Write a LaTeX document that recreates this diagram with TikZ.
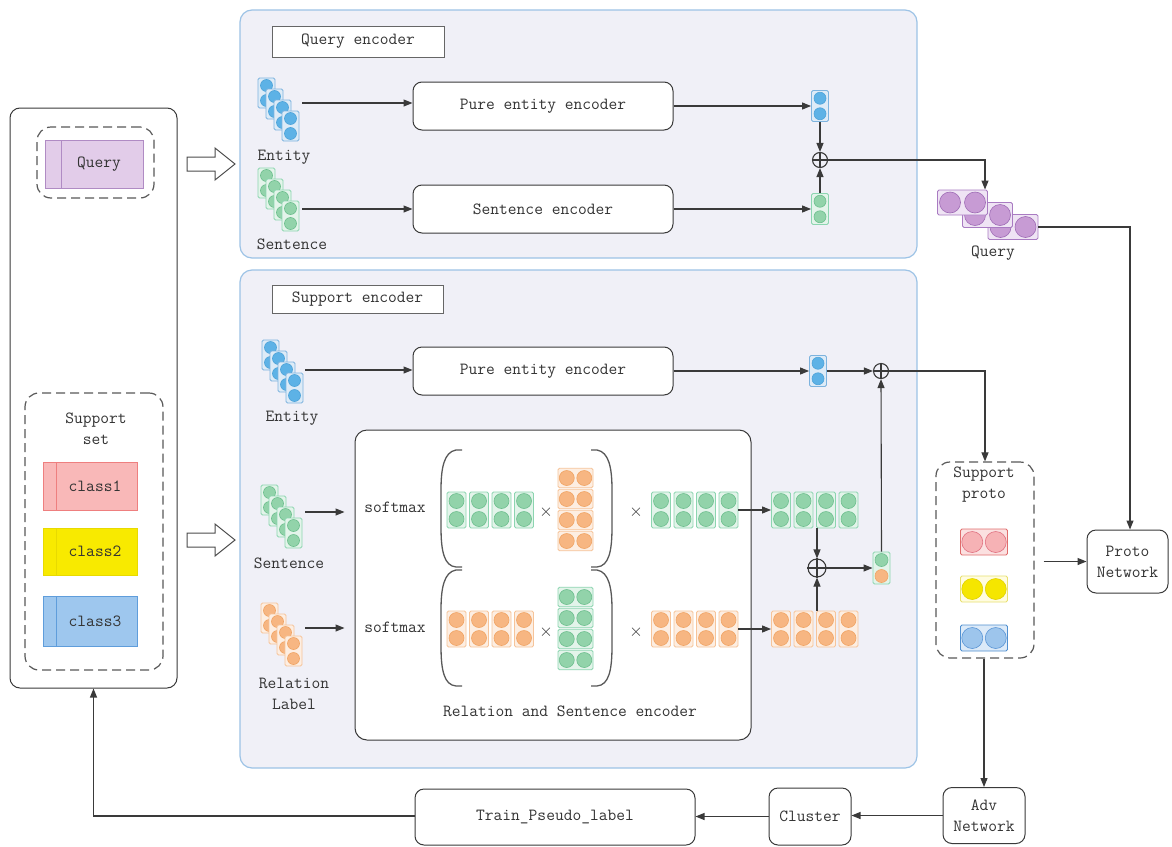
\documentclass[tikz,border=0pt]{standalone}
\usetikzlibrary{arrows.meta}
\definecolor{panelF}{HTML}{F0F0F7}
\definecolor{panelB}{HTML}{9DC3E6}
\definecolor{ink}{HTML}{3A3A3A}
\definecolor{txt}{HTML}{333333}
\definecolor{cBluB}{HTML}{7DB3DE}\definecolor{cBluF}{HTML}{DDEBF7}\definecolor{cBluS}{HTML}{4EA3D9}\definecolor{cBluC}{HTML}{5DB2E6}
\definecolor{cGrnB}{HTML}{8CD5B0}\definecolor{cGrnF}{HTML}{E3F4EA}\definecolor{cGrnS}{HTML}{6DBE8E}\definecolor{cGrnC}{HTML}{92D3AA}
\definecolor{cOrgB}{HTML}{F6C49A}\definecolor{cOrgF}{HTML}{FDEEE2}\definecolor{cOrgS}{HTML}{F0A464}\definecolor{cOrgC}{HTML}{F7B682}
\definecolor{cPurB}{HTML}{A97BC2}\definecolor{cPurF}{HTML}{EFE4F4}\definecolor{cPurS}{HTML}{9E6BB5}\definecolor{cPurC}{HTML}{C79BD4}
\definecolor{cPnkB}{HTML}{E06C6C}\definecolor{cPnkF}{HTML}{FBE0E0}\definecolor{cPnkS}{HTML}{E07080}\definecolor{cPnkC}{HTML}{F6B2B5}
\definecolor{cYelB}{HTML}{E8E070}\definecolor{cYelF}{HTML}{FFFCE0}\definecolor{cYelS}{HTML}{E0D000}\definecolor{cYelC}{HTML}{F5E600}
\definecolor{cPblB}{HTML}{4F8FD0}\definecolor{cPblF}{HTML}{DCEAF8}\definecolor{cPblS}{HTML}{5A95D5}\definecolor{cPblC}{HTML}{9DC5EC}
\definecolor{qFill}{HTML}{E2CCE9}\definecolor{qLine}{HTML}{B08BC4}
\definecolor{c1Fill}{HTML}{F9B8B8}\definecolor{c1Line}{HTML}{EE7F7F}
\definecolor{c2Fill}{HTML}{F8EA00}\definecolor{c2Line}{HTML}{E8DA00}
\definecolor{c3Fill}{HTML}{9EC7EE}\definecolor{c3Line}{HTML}{5F9DDB}
\tikzset{
 lbl/.style={font=\ttfamily\fontsize{17}{21}\selectfont, text=txt, inner sep=0pt, align=center},
 enc/.style={draw=ink, line width=1pt, rounded corners=9pt, fill=white, lbl},
 arr/.style={draw=ink, line width=1.1pt, -{Triangle[length=9pt,width=7pt]}},
 ln/.style={draw=ink, line width=1.1pt},
 panel/.style={draw=panelB, fill=panelF, line width=1.2pt, rounded corners=12pt},
 dashbox/.style={draw=black!65, dash pattern=on 9pt off 5pt, line width=1.2pt, rounded corners=14pt},
 card/.style={line width=0.9pt, rounded corners=1.5pt, inner sep=0pt},
 opl/.style={circle, draw=ink, line width=1.1pt, inner sep=0pt, minimum size=#1},
 paren/.style={draw=black!65, line width=1.3pt},
 hollow/.style={draw=black!70, fill=white, line width=1pt},
 tagbox/.style={draw=black!60, fill=white, line width=1pt, lbl},
 colbox/.style={line width=1pt, lbl},
}
\newcommand\vcard[7]{%
 \node[card, draw=#7B, fill=#7F, minimum width=#4pt, minimum height=#5pt] (#1) at (#2,#3) {};
 \filldraw[draw=#7S, fill=#7C, line width=0.6pt] ({#2},{#3-#5/4}) circle[radius=#6pt] ({#2},{#3+#5/4}) circle[radius=#6pt];
}
\newcommand\hcard[7]{%
 \node[card, draw=#7B, fill=#7F, minimum width=#4pt, minimum height=#5pt] (#1) at (#2,#3) {};
 \filldraw[draw=#7S, fill=#7C, line width=0.6pt] ({#2-#4/4},{#3}) circle[radius=#6pt] ({#2+#4/4},{#3}) circle[radius=#6pt];
}
\newcommand\stackv[4]{%
 \vcard{#1a}{#2}{#3}{17}{30}{6}{#4}
 \vcard{#1b}{#2+8}{#3+11}{17}{30}{6}{#4}
 \vcard{#1c}{#2+16}{#3+22}{17}{30}{6}{#4}
 \vcard{#1d}{#2+24}{#3+33}{17}{30}{6}{#4}
}
\newcommand\rowv[4]{%
 \vcard{#1a}{#2}{#3}{19}{36}{7.5}{#4}
 \vcard{#1b}{#2+22.5}{#3}{19}{36}{7.5}{#4}
 \vcard{#1c}{#2+45}{#3}{19}{36}{7.5}{#4}
 \vcard{#1d}{#2+67.5}{#3}{19}{36}{7.5}{#4}
}
\newcommand\colh[4]{%
 \hcard{#1a}{#2}{#3}{35}{19.5}{7.5}{#4}
 \hcard{#1b}{#2}{#3+21}{35}{19.5}{7.5}{#4}
 \hcard{#1c}{#2}{#3+42}{35}{19.5}{7.5}{#4}
 \hcard{#1d}{#2}{#3+63}{35}{19.5}{7.5}{#4}
}
\newcommand\opcross[1]{\draw[ink, line width=1.1pt] (#1.north) -- (#1.south) (#1.west) -- (#1.east);}
\begin{document}
\begin{tikzpicture}[x=1pt,y=-1pt]
\useasboundingbox (0,0) rectangle (1172,846);
\fill[white] (0,0) rectangle (1172,846);

% ---------- left column ----------
\node[draw=ink, line width=1pt, rounded corners=10pt, minimum width=167pt, minimum height=580pt] (lb) at (93.5,398) {};
\node[dashbox, minimum width=117pt, minimum height=71pt] (qgrp) at (95.5,162.5) {};
\node[colbox, draw=qLine, fill=qFill, minimum width=98pt, minimum height=48pt] (qbox) at (94,164) {};
\draw[qLine, line width=1pt] (61,140) -- (61,188);
\node[lbl] (qtxt) at (99,164) {Query};

\node[dashbox, minimum width=138pt, minimum height=277pt] (sgrp) at (94,531.5) {};
\node[lbl] (stxt) at (96,428.5) {Support\\set};
\node[colbox, draw=c1Line, fill=c1Fill, minimum width=94pt, minimum height=48pt] (c1) at (90,486) {};
\draw[c1Line, line width=1pt] (56,462) -- (56,510);
\node[lbl] (c1t) at (95,486) {class1};
\node[colbox, draw=c2Line, fill=c2Fill, minimum width=94pt, minimum height=47pt] (c2) at (90,551.5) {};
\draw[c2Line, line width=1pt] (56,528) -- (56,575);
\node[lbl] (c2t) at (95,551.5) {class2};
\node[colbox, draw=c3Line, fill=c3Fill, minimum width=94pt, minimum height=50pt] (c3) at (90,621) {};
\draw[c3Line, line width=1pt] (56,596) -- (56,646);
\node[lbl] (c3t) at (95,621) {class3};

% hollow arrows
\draw[hollow] (187,157) -- (215,157) -- (215,148) -- (235,164) -- (215,180) -- (215,171) -- (187,171) -- cycle;
\draw[hollow] (187,533) -- (215,533) -- (215,524) -- (235,540) -- (215,556) -- (215,547) -- (187,547) -- cycle;

% ---------- query encoder panel ----------
\node[panel, minimum width=677pt, minimum height=248pt] (qpanel) at (578.5,134) {};
\node[tagbox, minimum width=172pt, minimum height=31pt] (qtag) at (358,41.5) {Query encoder};

\stackv{qe}{266.5}{93}{cBlu}
\node[lbl] (qet) at (284,157) {Entity};
\stackv{qs}{266.5}{183}{cGrn}
\node[lbl] (qst) at (292,244) {Sentence};

\node[enc, minimum width=260pt, minimum height=48pt] (qpe) at (543,106) {Pure entity encoder};
\node[enc, minimum width=260pt, minimum height=48pt] (qse) at (543,209) {Sentence encoder};

\vcard{qeo}{820}{106}{17}{31}{6}{cBlu}
\vcard{qso}{820}{209}{17}{31}{6}{cGrn}
\node[opl=15pt] (qop) at (820,160) {};
\opcross{qop}

\coordinate (qea) at (302,103);
\coordinate (qsa) at (302,209);
\draw[arr] (qea) -- (qea -| qpe.west);
\draw[arr] (qsa) -- (qsa -| qse.west);
\draw[arr] (qpe.east) -- (qeo.west);
\draw[arr] (qse.east) -- (qso.west);
\draw[arr] (qeo.south) -- (qop.north);
\draw[arr] (qso.north) -- (qop.south);

% purple query stack
\hcard{pq3}{1013}{227}{50}{25}{10.5}{cPur}
\hcard{pq2}{987.5}{215}{50}{25}{10.5}{cPur}
\hcard{pq1}{962.5}{202.5}{50}{25}{10.5}{cPur}
\node[lbl] (pqt) at (993,253) {Query};
\coordinate (qturn) at (985,160);
\draw[arr] (qop.east) -- (qturn) -- (qturn |- pq1.north);

% ---------- support encoder panel ----------
\node[panel, minimum width=677pt, minimum height=498pt] (spanel) at (578.5,519) {};
\node[tagbox, minimum width=171pt, minimum height=28pt] (stag) at (357.5,299) {Support encoder};

\stackv{se}{270.5}{355}{cBlu}
\node[lbl] (set) at (292,418) {Entity};
\stackv{ss}{269.5}{500}{cGrn}
\node[lbl] (sst) at (289,563) {Sentence};
\stackv{sr}{269.5}{618}{cOrg}
\node[lbl] (srt) at (294,694) {Relation\\Label};

\node[enc, minimum width=260pt, minimum height=48pt] (spe) at (543,371) {Pure entity encoder};
\vcard{seo}{818}{371}{17}{31}{6}{cBlu}
\node[opl=15pt] (sop) at (881,371) {};
\opcross{sop}
\coordinate (sea) at (305,370);
\draw[arr] (sea) -- (sea -| spe.west);
\draw[arr] (spe.east) -- (seo.west);
\draw[arr] (seo.east) -- (sop.west);

% relation and sentence encoder
\node[draw=ink, line width=1pt, rounded corners=12pt, fill=white, minimum width=396pt, minimum height=310pt] (rse) at (553,585) {};
\node[lbl] (rset) at (570,711) {Relation and Sentence encoder};
\coordinate (ssa) at (305,512);
\coordinate (sra) at (305,628);
\draw[arr, shorten >=10pt] (ssa) -- (ssa -| rse.west);
\draw[arr, shorten >=10pt] (sra) -- (sra -| rse.west);
\node[lbl] (sm1) at (395,507) {softmax};
\node[lbl] (sm2) at (395,627) {softmax};

% parentheses
\draw[paren] (462,450) -- (456,450) .. controls (444,452) and (441,468) .. (441,490) -- (441,527) .. controls (441,551) and (444,566) .. (456,567) -- (462,567);
\draw[paren] (591,450) -- (597,450) .. controls (609,452) and (612,468) .. (612,490) -- (612,527) .. controls (612,551) and (609,566) .. (597,567) -- (591,567);
\draw[paren] (462,570) -- (456,570) .. controls (444,572) and (441,588) .. (441,610) -- (441,646) .. controls (441,670) and (444,685) .. (456,686) -- (462,686);
\draw[paren] (591,570) -- (597,570) .. controls (609,572) and (612,588) .. (612,610) -- (612,646) .. controls (612,670) and (609,685) .. (597,686) -- (591,686);

% upper matrices
\rowv{ga}{456.5}{510}{cGrn}
\node[lbl] (x1) at (546,512) {$\times$};
\colh{ob}{575.5}{478}{cOrg}
\node[lbl] (x2) at (636,512) {$\times$};
\rowv{gc}{661}{510}{cGrn}
\rowv{go}{781}{510}{cGrn}
\draw[arr] (gcd.east) -- (goa.west);

% lower matrices
\rowv{oa}{456.5}{629}{cOrg}
\node[lbl] (x3) at (546,632) {$\times$};
\colh{gb}{575.5}{597}{cGrn}
\node[lbl] (x4) at (636,632) {$\times$};
\rowv{oc}{661}{629}{cOrg}
\rowv{oo}{781}{629}{cOrg}
\draw[arr] (ocd.east) -- (ooa.west);

% fusion
\node[opl=18pt] (sop2) at (817,568) {};
\opcross{sop2}
\node[card, draw=cGrnB, fill=cGrnF, minimum width=17pt, minimum height=32pt] (mix) at (881.5,568) {};
\filldraw[draw=cGrnS, fill=cGrnC, line width=0.6pt] (881.5,560) circle[radius=6.5pt];
\filldraw[draw=cOrgS, fill=cOrgC, line width=0.6pt] (881.5,576) circle[radius=6.5pt];
\draw[arr] (sop2 |- goa.south) -- (sop2.north);
\draw[arr] (sop2 |- ooa.north) -- (sop2.south);
\draw[arr] (sop2.east) -- (mix.west);
\draw[arr] (mix.north) -- (sop.south);

% ---------- right side ----------
\node[dashbox, minimum width=98pt, minimum height=196pt] (spp) at (985,560) {};
\node[lbl] (sppt) at (984,485) {Support\\proto};
\hcard{pp1}{984}{542}{47}{26}{10.5}{cPnk}
\hcard{pp2}{984}{589}{47}{26}{10.5}{cYel}
\hcard{pp3}{984}{638}{47}{26}{10.5}{cPbl}
\coordinate (sturn) at (985,371);
\draw[arr] (sop.east) -- (sturn) -- (sturn |- spp.north);

\node[enc, minimum width=81pt, minimum height=63pt] (pn) at (1127.5,561.5) {Proto\\Network};
\coordinate (qpn) at (1130,227);
\draw[arr] (pq3.east) -- (qpn) -- (qpn |- pn.north);
\draw[arr, shorten <=9pt] (spp.east |- pn.west) -- (pn.west);

\node[enc, minimum width=82pt, minimum height=56pt] (adv) at (984,815.5) {Adv\\Network};
\node[enc, minimum width=82pt, minimum height=57pt] (cl) at (810,816.5) {Cluster};
\node[enc, minimum width=280pt, minimum height=56pt] (tr) at (555,817) {Train\_Pseudo\_label};
\draw[arr] (spp.south -| adv.north) -- (adv.north);
\draw[arr] (adv.west) -- (adv.west -| cl.east);
\draw[arr] (cl.west) -- (cl.west -| tr.east);
\coordinate (lturn) at (93.5,816);
\draw[arr] (tr.west |- lturn) -- (lturn) -- (lb.south);
\end{tikzpicture}
\end{document}
